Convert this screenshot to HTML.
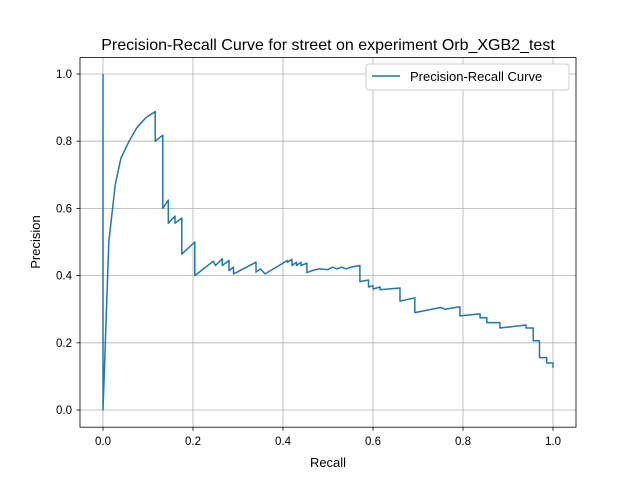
<!DOCTYPE html>
<html><head><meta charset="utf-8"><style>
body{margin:0;background:#fff;}
svg text{font-family:"Liberation Sans","DejaVu Sans",sans-serif;fill:#000;}
</style></head><body>
<svg id="chart" width="640" height="480" xmlns="http://www.w3.org/2000/svg">
<rect width="640" height="480" fill="#fff"/>
<g id="grid"></g>
<g id="ticks"></g>
<path id="curve" fill="none" stroke="#1f77b4" stroke-width="1.5" stroke-linejoin="round"/>
<rect x="80" y="57.6" width="496" height="369.6" fill="none" stroke="#000" stroke-width="0.8"/>
<text x="328" y="50" font-size="16" text-anchor="middle">Precision-Recall Curve for street on experiment Orb_XGB2_test</text>
<text x="328" y="467" font-size="13" text-anchor="middle">Recall</text>
<text x="0" y="0" font-size="13" text-anchor="middle" transform="translate(40,242) rotate(-90)">Precision</text>
<g>
<rect x="366" y="64" width="203" height="26" rx="3" fill="#fff" stroke="#ccc"/>
<line x1="372" y1="76" x2="400" y2="76" stroke="#1f77b4" stroke-width="1.5"/>
<text x="410" y="81" font-size="13">Precision-Recall Curve</text>
</g>
</svg>
<script>
const recall=[0,0,0.013,0.027,0.04,0.058,0.075,0.095,0.116,0.116,0.133,0.133,0.145,0.145,0.16,0.16,0.175,0.175,0.204,0.204,0.245,0.25,0.265,0.265,0.28,0.28,0.29,0.29,0.34,0.34,0.35,0.36,0.41,0.41,0.42,0.42,0.43,0.43,0.44,0.44,0.453,0.453,0.465,0.48,0.5,0.51,0.52,0.53,0.54,0.55,0.571,0.571,0.59,0.59,0.6,0.6,0.616,0.616,0.66,0.66,0.693,0.693,0.75,0.76,0.793,0.793,0.838,0.838,0.853,0.853,0.882,0.882,0.94,0.94,0.956,0.956,0.97,0.97,0.986,0.986,1.0,1.0];
const precision=[1.0,0,0.5,0.67,0.75,0.8,0.84,0.87,0.888,0.80,0.818,0.60,0.625,0.556,0.577,0.556,0.571,0.464,0.50,0.40,0.443,0.43,0.45,0.43,0.445,0.415,0.425,0.405,0.44,0.41,0.42,0.405,0.445,0.44,0.448,0.43,0.44,0.43,0.44,0.43,0.437,0.409,0.415,0.42,0.418,0.425,0.42,0.425,0.42,0.425,0.43,0.382,0.387,0.366,0.37,0.36,0.366,0.358,0.363,0.324,0.334,0.29,0.305,0.3,0.307,0.28,0.286,0.274,0.275,0.26,0.26,0.244,0.253,0.244,0.244,0.206,0.206,0.156,0.156,0.14,0.14,0.126];
const xTicks=[0,0.2,0.4,0.6,0.8,1.0];
const yTicks=[0,0.2,0.4,0.6,0.8,1.0];
const xTickLabels=["0.0","0.2","0.4","0.6","0.8","1.0"];
const yTickLabels=["0.0","0.2","0.4","0.6","0.8","1.0"];
const X=v=>103+v*450, Y=v=>410-v*336;
const NS="http://www.w3.org/2000/svg";
const grid=document.getElementById('grid'), ticks=document.getElementById('ticks');
function mk(tag,attrs,parent){const e=document.createElementNS(NS,tag);for(const k in attrs)e.setAttribute(k,attrs[k]);parent.appendChild(e);return e;}
xTicks.forEach((t,i)=>{
 const g=mk('line',{x1:X(t),x2:X(t),y1:57.6,y2:427.2,stroke:'#b0b0b0','stroke-width':0.8},grid);
 
 
 const tk=mk('line',{x1:X(t),x2:X(t),y1:427.2,y2:430.7,stroke:'#000','stroke-width':0.8},ticks);
 
 
 const tx=mk('text',{x:X(t),y:445,'font-size':11.5,'text-anchor':'middle'},ticks);tx.textContent=xTickLabels[i];
 
 
});
yTicks.forEach((t,i)=>{
 const g=mk('line',{x1:80,x2:576,y1:Y(t),y2:Y(t),stroke:'#b0b0b0','stroke-width':0.8},grid);
 
 
 const tk=mk('line',{x1:76.5,x2:80,y1:Y(t),y2:Y(t),stroke:'#000','stroke-width':0.8},ticks);
 
 
 const tx=mk('text',{x:72,y:Y(t)+4,'font-size':11.5,'text-anchor':'end'},ticks);tx.textContent=yTickLabels[i];
 
 
});
document.getElementById('curve').setAttribute('d',recall.map((r,i)=>(i?'L':'M')+X(r).toFixed(1)+','+Y(precision[i]).toFixed(1)).join(''));
</script>
</body></html>
